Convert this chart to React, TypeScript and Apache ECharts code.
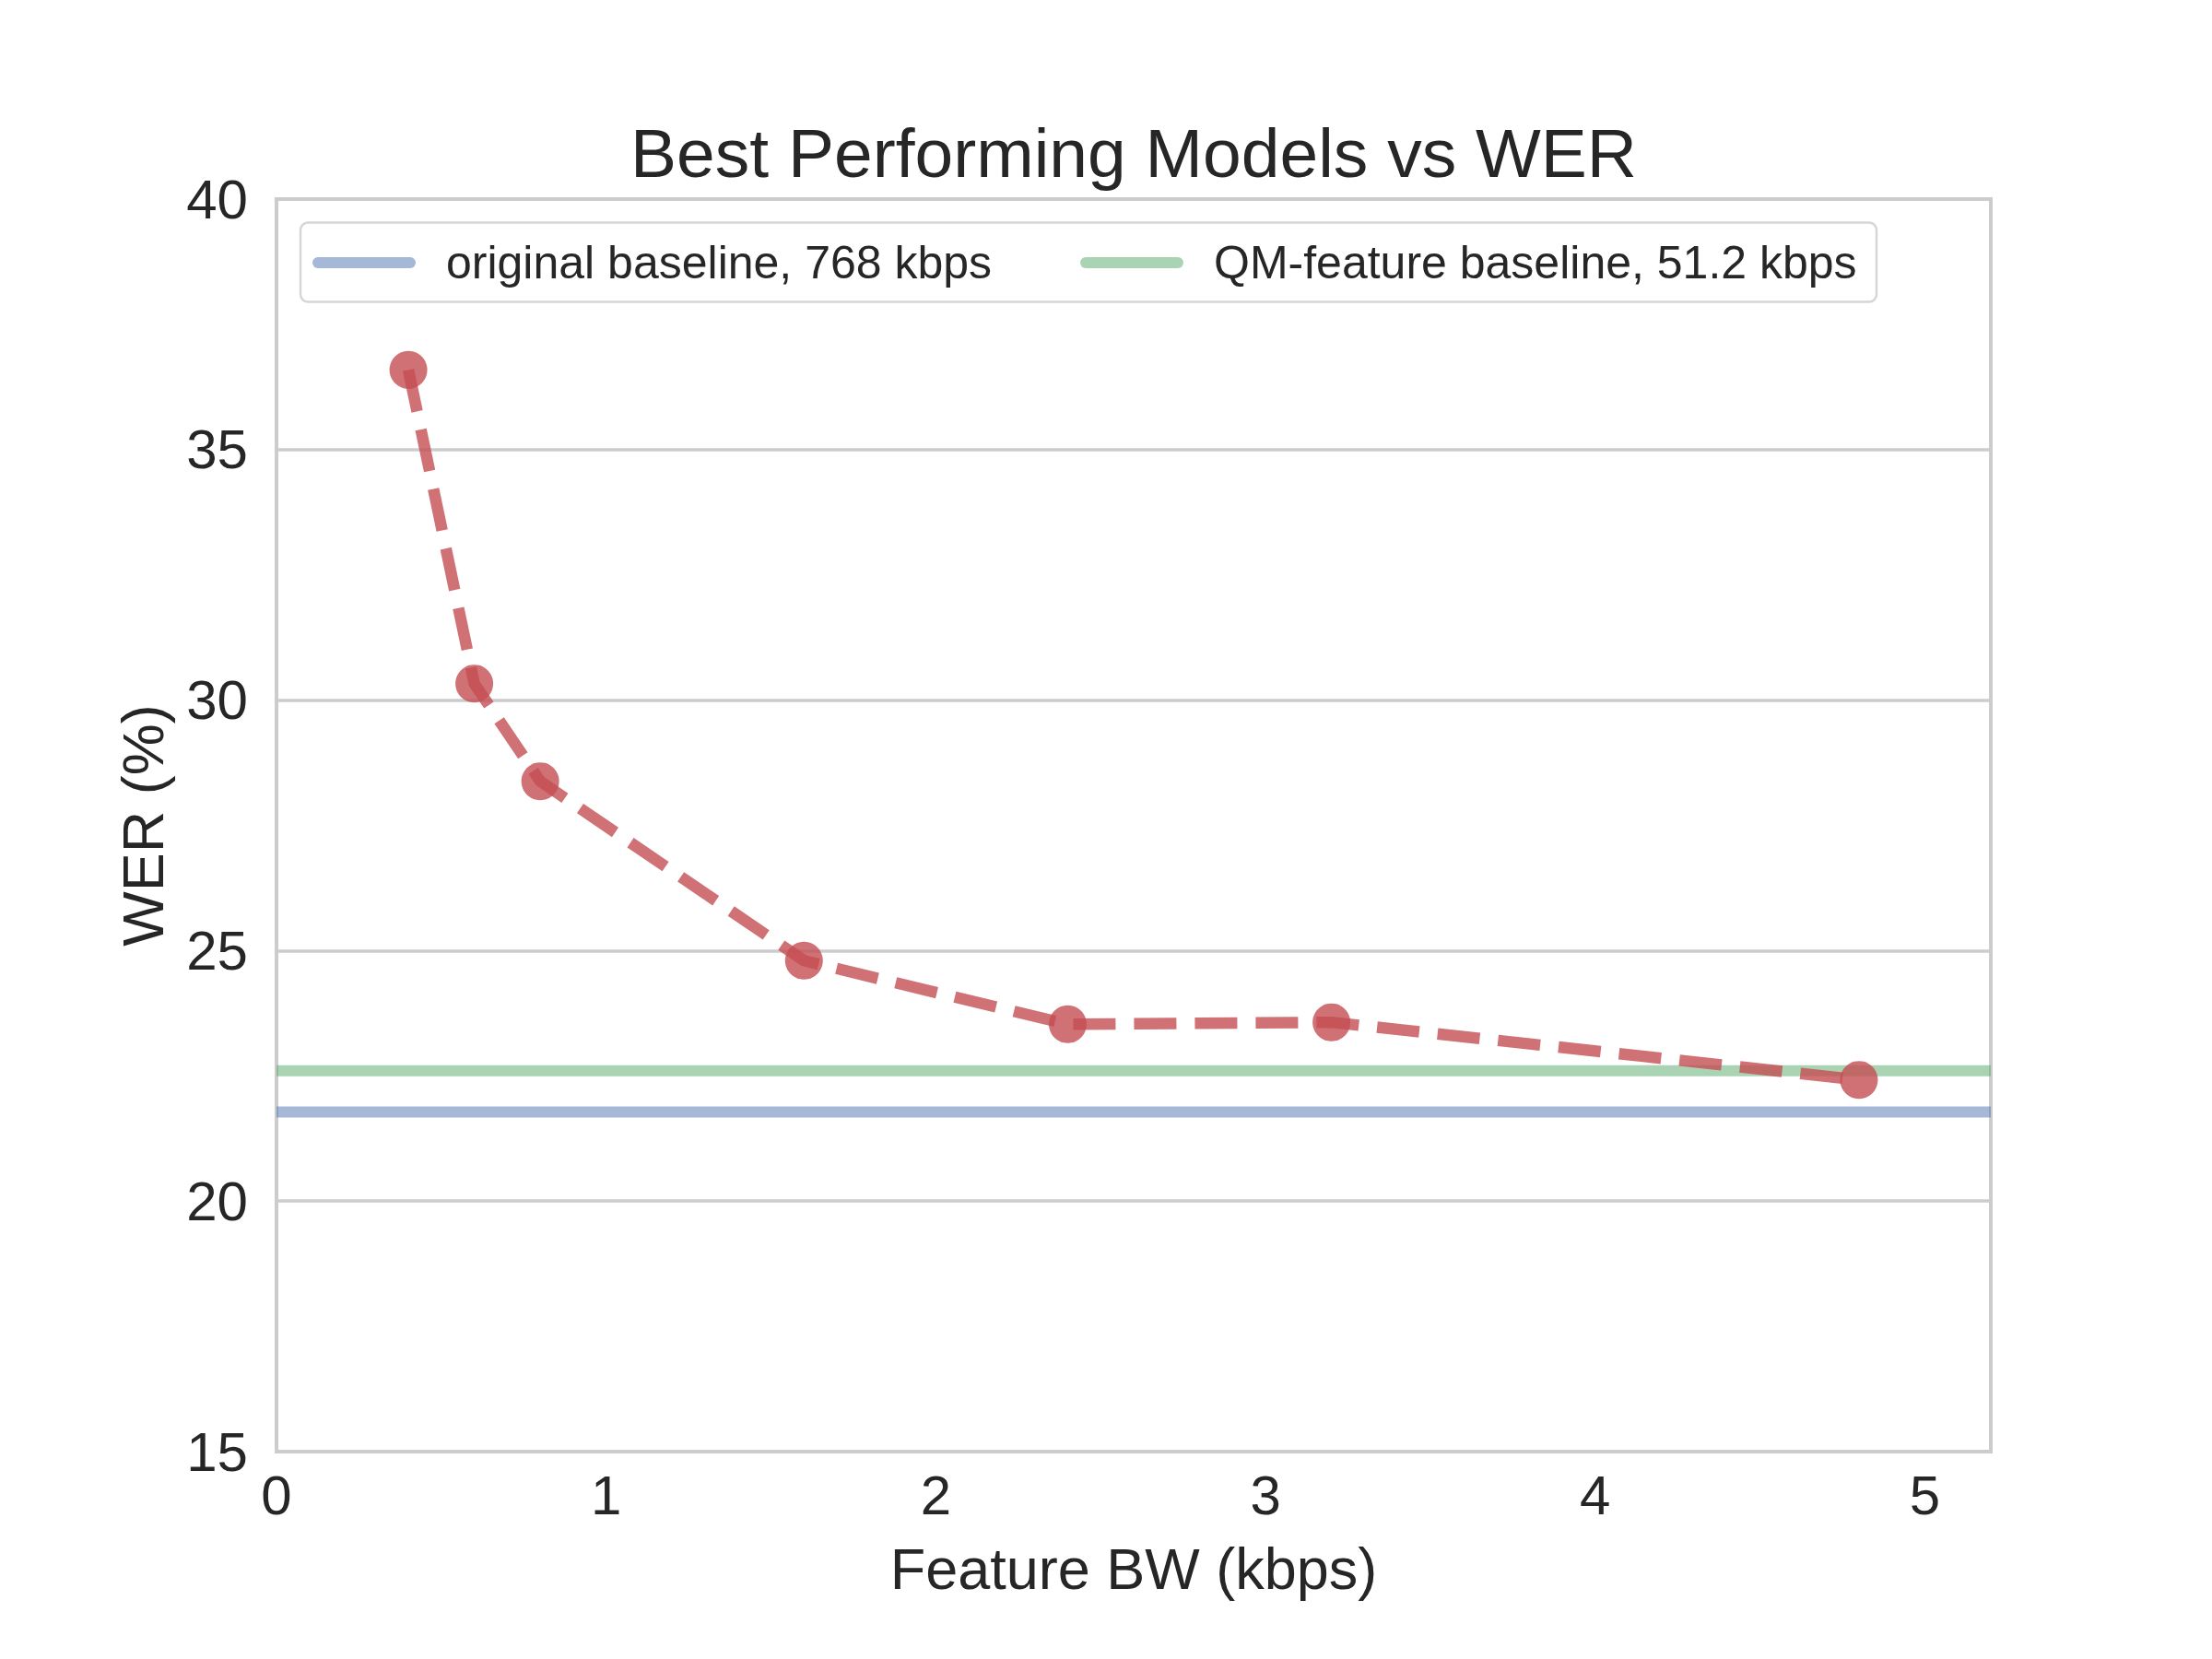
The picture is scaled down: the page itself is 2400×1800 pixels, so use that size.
import React, { useEffect, useRef } from 'react';
import * as echarts from 'echarts';

const bandwidthKbps = [0.4, 0.6, 0.8, 1.6, 2.4, 3.2, 4.8];
const werPercent = [36.59, 30.33, 28.38, 24.8, 23.53, 23.57, 22.42];
const baselineNames = ['original baseline, 768 kbps', 'QM-feature baseline, 51.2 kbps'];
const baselineValues = [21.78, 22.6];
const baselineColors = ['rgba(76,114,176,0.5)', 'rgba(85,168,104,0.5)'];
const xRange = [0, 5.2];
const yRange = [15, 40];

const FONT = '"Liberation Sans", Arial, Helvetica, sans-serif';
const TEXT = '#262626';
const ICON = 'path://M6,0L106,0A6,6,0,0,1,106,12L6,12A6,6,0,0,1,6,0Z';

export default function App() {
  const ref = useRef<HTMLDivElement>(null);
  useEffect(() => {
    document.body.style.margin = '0';
    if (!ref.current) return;
    const chart = echarts.init(ref.current, undefined, { renderer: 'svg' });
    const baselineSeries = baselineNames.map((name, i) => ({
      name,
      type: 'line',
      data: [
        [xRange[0], baselineValues[i]],
        [xRange[1], baselineValues[i]],
      ],
      symbol: 'none',
      color: baselineColors[i],
      lineStyle: { color: baselineColors[i], width: 12 },
      z: 2,
      silent: true,
    }));
    const legendLefts = [339, 1172];
    chart.setOption({
      animation: false,
      backgroundColor: '#ffffff',
      textStyle: { fontFamily: FONT },
      title: {
        text: 'Best Performing Models vs WER',
        left: 1230,
        top: 128,
        textAlign: 'center',
        padding: 0,
        textStyle: {
          fontFamily: FONT,
          fontSize: 75,
          lineHeight: 75,
          fontWeight: 'normal',
          color: TEXT,
        },
      },
      grid: {
        left: 300,
        top: 216,
        width: 1860,
        height: 1359,
        show: true,
        borderColor: '#cccccc',
        borderWidth: 4,
        backgroundColor: 'transparent',
      },
      graphic: [
        {
          type: 'rect',
          z: 3,
          shape: { x: 326, y: 241.5, width: 1710, height: 86, r: 8 },
          style: { fill: 'rgba(255,255,255,0.8)', stroke: '#d6d6d6', lineWidth: 2.5 },
        },
      ],
      legend: baselineNames.map((name, i) => ({
        data: [{ name, icon: ICON, itemStyle: { color: baselineColors[i] } }],
        left: legendLefts[i],
        top: 260,
        padding: 0,
        itemWidth: 112,
        itemHeight: 12,
        selectedMode: false,
        z: 4,
        textStyle: {
          fontFamily: FONT,
          fontSize: 50,
          lineHeight: 50,
          color: TEXT,
          padding: [0, 0, 0, 28],
        },
      })),
      xAxis: {
        type: 'value',
        min: xRange[0],
        max: xRange[1],
        interval: 1,
        name: 'Feature BW (kbps)',
        nameLocation: 'middle',
        nameGap: 95,
        nameTextStyle: { fontFamily: FONT, fontSize: 63, lineHeight: 63, color: TEXT },
        axisLine: { show: false },
        axisTick: { show: false },
        splitLine: { show: false },
        axisLabel: {
          fontFamily: FONT,
          fontSize: 60,
          lineHeight: 60,
          color: TEXT,
          margin: 17,
          formatter: (v: number) => (Number.isInteger(v) ? String(v) : ''),
        },
      },
      yAxis: {
        type: 'value',
        min: yRange[0],
        max: yRange[1],
        interval: 5,
        name: 'WER (%)',
        nameLocation: 'middle',
        nameGap: 114,
        nameTextStyle: { fontFamily: FONT, fontSize: 63, lineHeight: 63, color: TEXT },
        axisLine: { show: false },
        axisTick: { show: false },
        splitLine: { show: true, lineStyle: { color: '#cccccc', width: 3.5 } },
        axisLabel: {
          fontFamily: FONT,
          fontSize: 60,
          lineHeight: 60,
          color: TEXT,
          margin: 31,
        },
      },
      series: [
        ...baselineSeries,
        {
          name: 'best models',
          type: 'line',
          data: bandwidthKbps.map((x, i) => [x, werPercent[i]]),
          symbol: 'circle',
          symbolSize: 41,
          color: '#c44e52',
          itemStyle: { color: '#c44e52', opacity: 0.8 },
          lineStyle: { color: '#c44e52', width: 12.5, type: [46, 20], opacity: 0.8, cap: 'butt' },
          z: 3,
          silent: true,
        },
      ],
    });
    return () => chart.dispose();
  }, []);
  return <div ref={ref} style={{ width: 2400, height: 1800 }} />;
}
